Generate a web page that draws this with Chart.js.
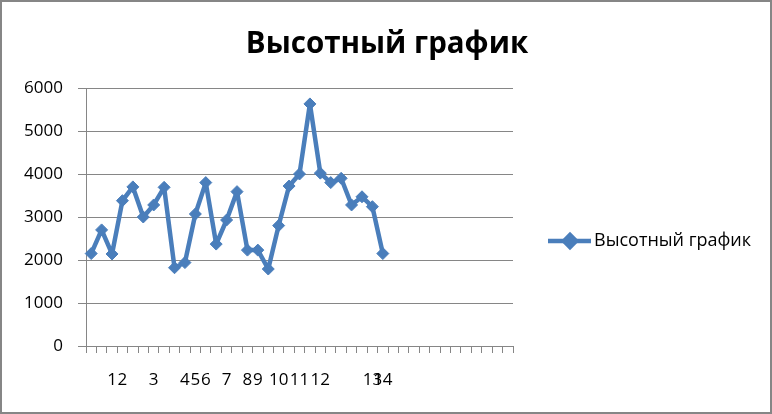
<!DOCTYPE html>
<html>
<head>
<meta charset="utf-8">
<script src="https://cdn.jsdelivr.net/npm/chart.js@4/dist/chart.umd.min.js"></script>
<style>
  html, body { margin: 0; padding: 0; background: #fff; }
  canvas { display: block; }
</style>
</head>
<body>
<canvas id="chart" width="772" height="414"></canvas>
<script>
const chartTitle = 'Высотный график';
const seriesName = 'Высотный график';

// 41 category slots, only some carry a label (as in the source sheet)
const categories = [
  '', '', '1', '2', '', '', '3', '', '', '4',
  '5', '6', '', '7', '', '8', '9', '', '10', '',
  '11', '', '12', '', '', '', '', '13', '14', '',
  '', '', '', '', '', '', '', '', '', '', ''
];

const heights = [
  2150, 2700, 2140, 3380, 3700, 3000, 3280, 3690, 1820, 1940,
  3070, 3800, 2370, 2930, 3590, 2230, 2230, 1790, 2800, 3720,
  4000, 5630, 4020, 3800, 3900, 3280, 3470, 3240, 2150
];

const yTicks = [0, 1000, 2000, 3000, 4000, 5000, 6000];

const values = categories.map((c, i) => i < heights.length ? heights[i] : null);

const blue = '#4A7EBB';
const gridGrey = '#868686';
const font = '"Open Sans", "Noto Sans", sans-serif';

// title, legend and outer frame
const decorations = {
  id: 'decorations',
  afterDraw(chart) {
    const ctx = chart.ctx;
    ctx.save();
    ctx.strokeStyle = gridGrey;
    ctx.lineWidth = 2;
    ctx.strokeRect(1, 1, chart.width - 2, chart.height - 2);

    ctx.fillStyle = '#000';
    ctx.font = 'bold 29.5px ' + font;
    ctx.textAlign = 'center';
    ctx.textBaseline = 'alphabetic';
    ctx.fillText(chartTitle, 387, 53);

    // legend
    const ly = 241;
    ctx.strokeStyle = blue;
    ctx.lineWidth = 4.5;
    ctx.beginPath();
    ctx.moveTo(548, ly);
    ctx.lineTo(591, ly);
    ctx.stroke();
    Chart.helpers.drawPoint(ctx, { pointStyle: 'rectRot', radius: 6, borderWidth: 1 }, 570, ly);
    ctx.fillStyle = blue;
    ctx.fill();

    ctx.fillStyle = '#000';
    ctx.font = '18px ' + font;
    ctx.textAlign = 'left';
    ctx.textBaseline = 'middle';
    ctx.fillText(seriesName, 594, ly);
    ctx.restore();
  }
};

new Chart(document.getElementById('chart'), {
  type: 'line',
  data: {
    labels: categories,
    datasets: [{
      label: seriesName,
      data: values,
      borderColor: blue,
      backgroundColor: blue,
      borderWidth: 4.5,
      borderJoinStyle: 'round',
      borderCapStyle: 'round',
      pointStyle: 'rectRot',
      pointRadius: 6,
      pointBorderWidth: 1,
      pointBackgroundColor: blue,
      pointBorderColor: blue,
      tension: 0,
      spanGaps: false
    }]
  },
  options: {
    responsive: false,
    devicePixelRatio: 1,
    animation: false,
    layout: { padding: { left: 0, right: 259, top: 88, bottom: 0 } },
    plugins: {
      legend: { display: false },
      title: { display: false },
      tooltip: { enabled: false }
    },
    scales: {
      x: {
        offset: true,
        grid: {
          offset: true,
          drawOnChartArea: false,
          drawTicks: true,
          tickLength: 7,
          color: gridGrey
        },
        border: { color: gridGrey, width: 1 },
        ticks: {
          autoSkip: false,
          maxRotation: 0,
          minRotation: 0,
          padding: 17,
          color: '#000',
          font: { family: font, size: 17 }
        },
        afterFit(scale) { scale.height = 68; }
      },
      y: {
        min: 0,
        max: 6000,
        afterBuildTicks(scale) { scale.ticks = yTicks.map(v => ({ value: v })); },
        grid: {
          color: gridGrey,
          tickLength: 8,
          drawTicks: true
        },
        border: { color: gridGrey, width: 1 },
        ticks: {
          padding: 15,
          color: '#000',
          font: { family: font, size: 17 },
          callback: (v) => String(v)
        },
        afterFit(scale) { scale.width = 86; }
      }
    }
  },
  plugins: [decorations]
});
</script>
</body>
</html>
